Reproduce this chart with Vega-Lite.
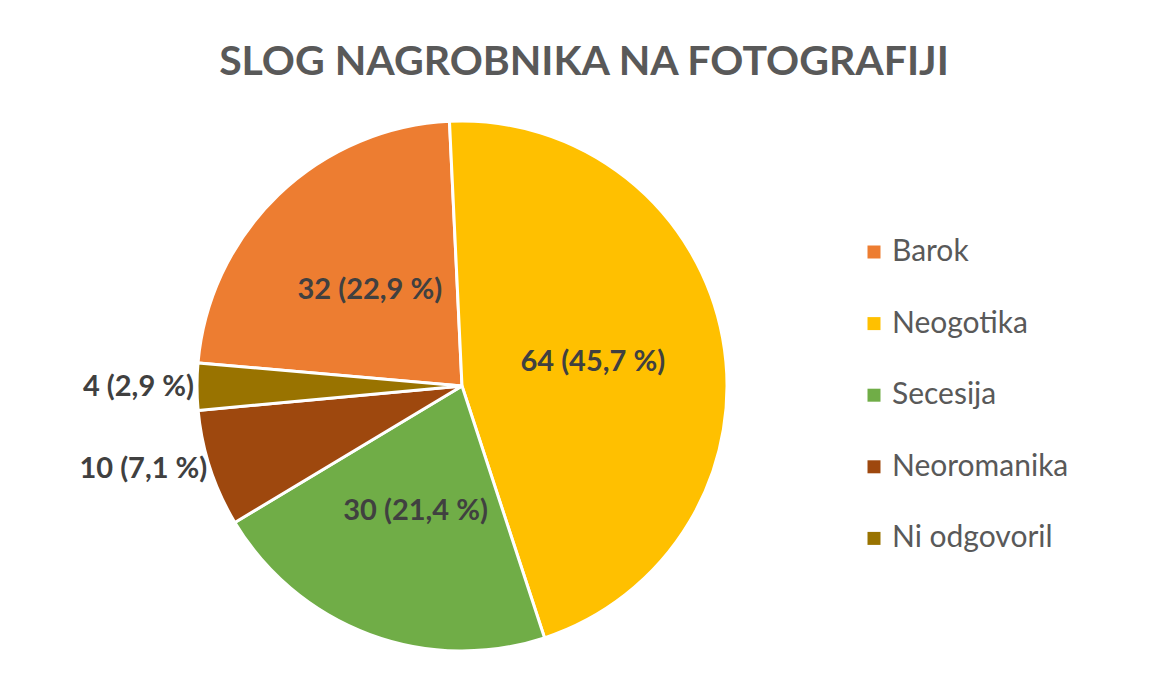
{
  "$schema": "https://vega.github.io/schema/vega-lite/v6.json",
  "width": 924,
  "height": 572,
  "autosize": {"type": "none"},
  "padding": {"left": 0, "top": 100, "right": 226, "bottom": 4},
  "background": "white",
  "title": {
    "text": "SLOG NAGROBNIKA NA FOTOGRAFIJI",
    "font": "Lato",
    "fontSize": 41,
    "fontWeight": "bold",
    "color": "#595959",
    "anchor": "middle",
    "dx": 122,
    "offset": 16
  },
  "data": {
    "values": [
      {"slog": "Barok", "count": 32, "label": "32 (22,9 %)", "idx": 1},
      {"slog": "Neogotika", "count": 64, "label": "64 (45,7 %)", "idx": 2},
      {"slog": "Secesija", "count": 30, "label": "30 (21,4 %)", "idx": 3},
      {"slog": "Neoromanika", "count": 10, "label": "10 (7,1 %)", "idx": 4},
      {"slog": "Ni odgovoril", "count": 4, "label": "4 (2,9 %)", "idx": 5}
    ]
  },
  "encoding": {
    "theta": {"field": "count", "type": "quantitative", "stack": true, "scale": {"range": [-1.4835, 4.7997]}},
    "order": {"field": "idx", "type": "quantitative"}
  },
  "layer": [
    {
      "mark": {"type": "arc", "outerRadius": 265, "stroke": "white", "strokeWidth": 3},
      "encoding": {
        "color": {
          "field": "slog",
          "type": "nominal",
          "scale": {
            "domain": ["Barok", "Neogotika", "Secesija", "Neoromanika", "Ni odgovoril"],
            "range": ["#ED7D31", "#FFC000", "#70AD47", "#9E480E", "#997300"]
          },
          "legend": {
            "title": null,
            "orient": "none",
            "legendX": 859,
            "legendY": 137,
            "padding": 0,
            "symbolType": "square",
            "symbolSize": 169,
            "symbolStrokeWidth": 0,
            "labelFont": "Lato",
            "labelFontSize": 30,
            "labelColor": "#595959",
            "labelOffset": 3,
            "labelLimit": 300,
            "rowPadding": 41.6
          }
        }
      }
    },
    {
      "mark": {"type": "text", "radius": 133, "font": "Lato", "fontSize": 29, "fontWeight": "bold", "color": "#404040", "align": "center", "baseline": "middle"},
      "encoding": {
        "text": {"condition": {"test": "datum.count >= 20", "field": "label"}, "value": ""}
      }
    },
    {
      "mark": {"type": "text", "radius": 268, "font": "Lato", "fontSize": 29, "fontWeight": "bold", "color": "#404040", "align": "right", "baseline": "middle"},
      "encoding": {
        "text": {"condition": {"test": "datum.count < 20", "field": "label"}, "value": ""}
      }
    }
  ],
  "config": {"view": {"stroke": null}}
}
